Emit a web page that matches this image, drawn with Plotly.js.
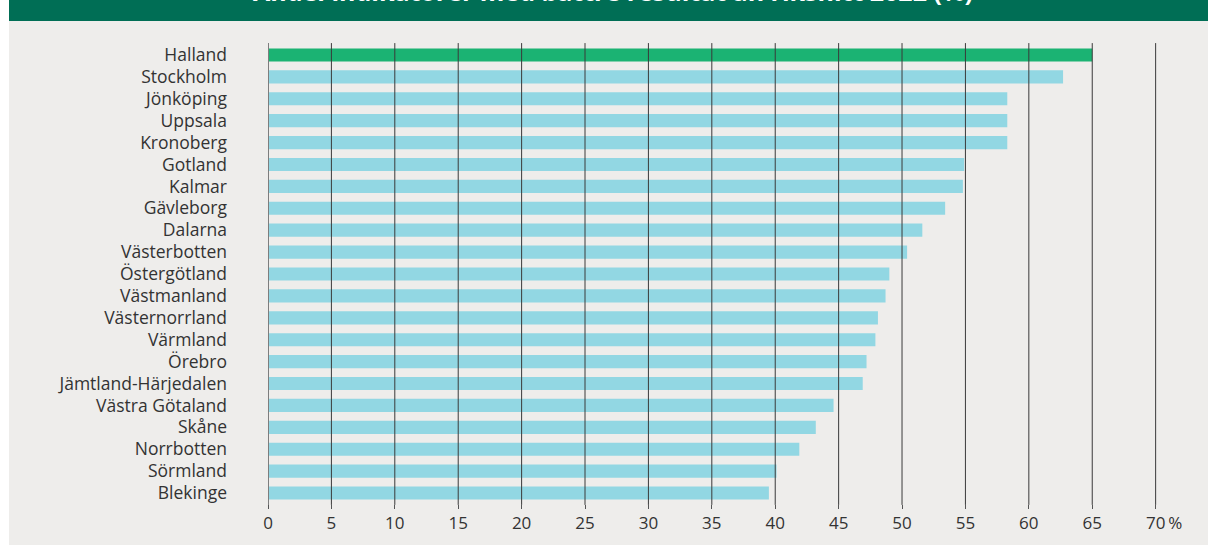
<!DOCTYPE html>
<html>
<head>
<meta charset="utf-8">
<script src="https://cdn.plot.ly/plotly-3.0.1.min.js"></script>
<style>
html,body{margin:0;padding:0;background:#ffffff;overflow:hidden;}
#chart{position:absolute;left:9px;top:0;width:1199px;height:545px;}
</style>
</head>
<body>
<div id="chart"></div>
<script>
const regions = ["Halland","Stockholm","Jönköping","Uppsala","Kronoberg","Gotland","Kalmar","Gävleborg","Dalarna","Västerbotten","Östergötland","Västmanland","Västernorrland","Värmland","Örebro","Jämtland-Härjedalen","Västra Götaland","Skåne","Norrbotten","Sörmland","Blekinge"];
const values = [65.0,62.7,58.3,58.3,58.3,54.9,54.8,53.4,51.6,50.4,49.0,48.7,48.1,47.9,47.2,46.9,44.6,43.2,41.9,40.1,39.5];
const highlight = "Halland";
const tickVals = [0,5,10,15,20,25,30,35,40,45,50,55,60,65,70];
const tickLabels = ["0","5","10","15","20","25","30","35","40","45","50","55","60","65","\u2002\u200270\u2009%"];
const titleText = "Andel indikatorer med bättre resultat än riksnitt 2022 (%)";

const colors = regions.map(r => r === highlight ? "#1bb373" : "#92d7e3");

const gridShapes = tickVals.filter(v => v !== 0).map(v => ({
  type: "line", xref: "x", yref: "paper", x0: v, x1: v, y0: -0.002, y1: 1.002,
  line: {color: "#3a3a3a", width: 1}, layer: "above"
}));
gridShapes.push({
  type: "line", xref: "x", yref: "paper", x0: 0, x1: 0, y0: -0.002, y1: 1.002,
  line: {color: "#7d7d7d", width: 2}, layer: "above"
});
gridShapes.unshift({
  type: "rect", xref: "paper", yref: "paper", x0: -0.4, x1: 1.1, y0: 1.05, y1: 1.2,
  fillcolor: "#006e55", line: {width: 0}, layer: "below"
});

const trace = {
  type: "bar", orientation: "h",
  x: values, y: regions,
  marker: {color: colors, line: {width: 0}},
  hoverinfo: "x+y"
};

const FONT = "'Open Sans', 'Noto Sans', sans-serif";

const layout = {
  width: 1199, height: 545,
  margin: {l: 259, r: 27, t: 44, b: 41},
  paper_bgcolor: "#eeedeb", plot_bgcolor: "#eeedeb",
  bargap: 0.4,
  showlegend: false,
  font: {family: FONT, color: "#333333", size: 17.5},
  xaxis: {
    range: [0, 72], tickvals: tickVals, ticktext: tickLabels,
    showgrid: false, zeroline: false, showline: false,
    ticks: "outside", ticklen: 4, tickcolor: "#555555", tickwidth: 1,
    tickfont: {size: 17, color: "#333333"}, fixedrange: true
  },
  yaxis: {
    type: "category", autorange: "reversed",
    showgrid: false, zeroline: false, showline: false,
    ticks: "", ticklabelstandoff: 40,
    tickfont: {size: 17.5, color: "#333333"}, fixedrange: true
  },
  shapes: gridShapes,
  annotations: [{
    text: "<b>" + titleText + "</b>", xref: "paper", yref: "paper",
    x: 0.378, y: 1.115, xanchor: "center", yanchor: "middle",
    showarrow: false, font: {size: 25, color: "#ffffff", family: FONT}
  }]
};

Plotly.newPlot("chart", [trace], layout, {displayModeBar: false, staticPlot: true});
</script>
</body>
</html>
